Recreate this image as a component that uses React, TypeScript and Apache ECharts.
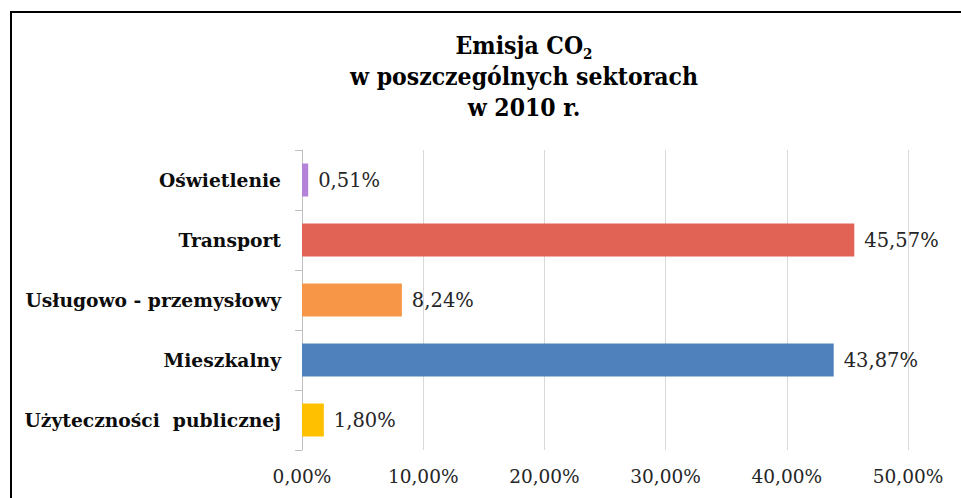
import React, { useEffect, useRef } from "react";
import * as echarts from "echarts";

const categories = [
  "Użyteczności  publicznej",
  "Mieszkalny",
  "Usługowo - przemysłowy",
  "Transport",
  "Oświetlenie",
];
const values = [1.8, 43.87, 8.24, 45.57, 0.51];
const barColors = ["#FFC000", "#4F81BD", "#F79646", "#E06355", "#B383D9"];
const xMin = 0;
const xMax = 50;
const xStep = 10;

const fmt = (v: number) => v.toFixed(2).replace(".", ",") + "%";

const SERIF = "'DejaVu Serif', 'Liberation Serif', serif";
const TITLE_FONT = "'DejaVu Serif Condensed', 'DejaVu Serif', serif";

export default function App() {
  const ref = useRef<HTMLDivElement>(null);
  useEffect(() => {
    if (!ref.current) return;
    const chart = echarts.init(ref.current, null, { renderer: "svg" });
    chart.setOption({
      animation: false,
      backgroundColor: "#ffffff",
      title: {
        text: "{a|Emisja CO}{sub|2}\n{a|w poszczególnych sektorach}\n{a|w 2010 r.}",
        left: 519,
        top: 25,
        textAlign: "center",
        textStyle: {
          rich: {
            a: {
              fontFamily: TITLE_FONT,
              fontWeight: "bold",
              fontSize: 24.5,
              lineHeight: 31,
              color: "#000",
            },
            sub: {
              fontFamily: TITLE_FONT,
              fontWeight: "bold",
              fontSize: 15,
              lineHeight: 31,
              verticalAlign: "bottom",
              color: "#000",
            },
          },
        },
      },
      graphic: [
        {
          type: "rect",
          shape: { x: 11, y: 12, width: 1000, height: 1000 },
          style: { fill: "none", stroke: "#000", lineWidth: 2 },
          silent: true,
        },
      ],
      grid: { left: 302, right: 53, top: 150, bottom: 48, containLabel: false },
      xAxis: {
        type: "value",
        min: xMin,
        max: xMax,
        interval: xStep,
        axisLine: { show: false },
        axisTick: { show: false },
        axisLabel: {
          formatter: (v: number) => fmt(v),
          fontFamily: SERIF,
          fontSize: 18.5,
          color: "#262626",
          margin: 17,
        },
        splitLine: { show: true, lineStyle: { color: "#D9D9D9", width: 1 } },
      },
      yAxis: {
        type: "category",
        data: categories,
        axisLine: { show: true, lineStyle: { color: "#BFBFBF", width: 1 } },
        axisTick: { show: true, length: 7, lineStyle: { color: "#BFBFBF" } },
        axisLabel: {
          fontFamily: SERIF,
          fontWeight: "bold",
          fontSize: 18.7,
          color: "#0D0D0D",
          margin: 21,
        },
      },
      series: [
        {
          type: "bar",
          data: values.map((v, i) => ({ value: v, itemStyle: { color: barColors[i] } })),
          barWidth: 33,
          label: {
            show: true,
            position: "right",
            distance: 10,
            formatter: (p: any) => fmt(p.value),
            fontFamily: SERIF,
            fontSize: 19.5,
            color: "#262626",
          },
        },
      ],
    });
    return () => chart.dispose();
  }, []);
  return (
    <div
      ref={ref}
      style={{ position: "absolute", left: 0, top: 0, width: 961, height: 498 }}
    />
  );
}
